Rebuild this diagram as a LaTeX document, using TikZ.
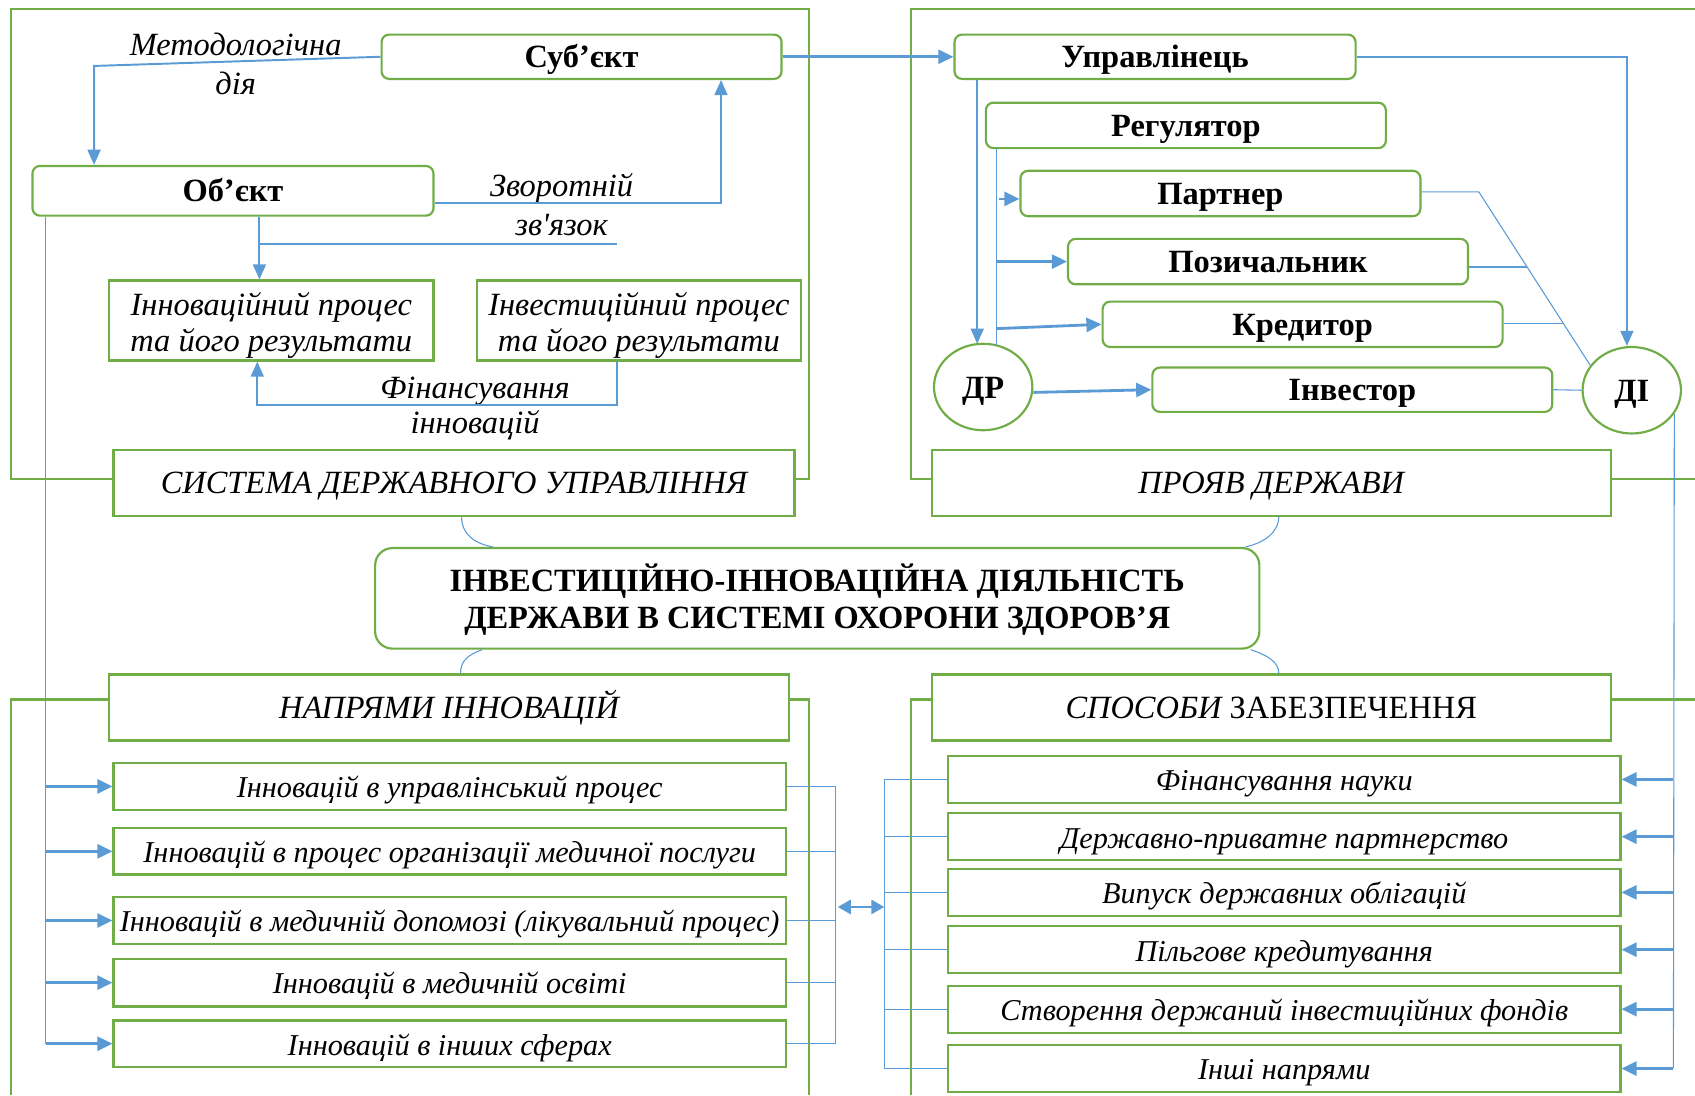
\documentclass[tikz,border=0pt]{standalone}
\usepackage{fontspec}
\setmainfont{Liberation Serif}
\newfontfamily\nolig{Liberation Serif}
\usetikzlibrary{arrows.meta,shapes.geometric,calc}
\definecolor{grn}{HTML}{70AD47}
\definecolor{blu}{HTML}{5B9BD5}
\newcommand{\topst}{\rule{0pt}{32pt}}
\newcommand{\botst}{\rule[-8pt]{0pt}{8pt}}
\newcommand{\mtopst}{\rule{0pt}{28pt}}
\newcommand{\mbotst}{\rule[-6pt]{0pt}{6pt}}
\begin{document}
\begin{tikzpicture}[x=1pt,y=-1pt,
  every node/.style={font=\fontsize{30}{34}\selectfont},
  gbox/.style={draw=grn,line width=2pt,fill=white,inner sep=0pt},
  one/.style={text height=22pt,text depth=1.5pt},
  rbox/.style={gbox,one,rounded corners=7pt,font=\fontsize{30}{34}\selectfont\bfseries},
  ibox/.style={gbox,one,font=\fontsize{30}{34}\selectfont\itshape},
  ubox/.style={gbox,one,font=\fontsize{30}{34}\selectfont},
  ebox/.style={gbox,one,ellipse,font=\fontsize{30}{34}\selectfont\bfseries},
  mbox/.style={gbox,align=center,font=\fontsize{30}{34}\selectfont\itshape},
  item/.style={gbox,text height=22pt,text depth=1pt,minimum width=622,font=\fontsize{28}{32}\selectfont\itshape},
  frame/.style={draw=grn,line width=2pt},
  thinl/.style={draw=blu,line width=1pt},
  medl/.style={draw=blu,line width=1.8pt},
  ar/.style={draw=blu,line width=2.6pt,-{Triangle[length=14pt,width=13pt]}},
  mar/.style={draw=blu,line width=1.8pt,-{Triangle[length=14pt,width=12pt]}},
  dar/.style={draw=blu,line width=2.6pt,{Triangle[length=12pt,width=13pt]}-{Triangle[length=12pt,width=13pt]}},
  lab/.style={font=\fontsize{30}{34}\selectfont\itshape,inner sep=0pt,anchor=base},
]
\useasboundingbox (0,0) rectangle (1568,1013);
% frames
\draw[frame] (10,8) rectangle (748,443);
\draw[frame] (1568,8) -- (843,8) -- (843,443) -- (1568,443);
\draw[frame] (10,1013) -- (10,647) -- (748,647) -- (748,1013);
\draw[frame] (843,1013) -- (843,647) -- (1568,647);
% top-left nodes
\node[rbox,minimum width=370,minimum height=41] (subj) at (538,52.5) {Суб’єкт};
\node[rbox,minimum width=371,minimum height=46] (obj) at (215.5,176.5) {Об’єкт};
\node[mbox,minimum width=300,minimum height=66] (innov) at (251,296.5) {\topst Інноваційний процес\\та його результати\botst};
\node[mbox,minimum width=300,minimum height=66] (invest) at (591,296.5) {\topst Інвестиційний процес\\та його результати\botst};
\node[ibox,minimum width=630,minimum height=61] (sys) at (420,446.5) {СИСТЕМА ДЕРЖАВНОГО УПРАВЛІННЯ};
\node[lab] (l1a) at (218,51) {Методологічна};
\node[lab] (l1b) at (218,87) {дія};
\node[lab] (l2a) at (519.5,182) {Зворотній};
\node[lab] (l2b) at (519.5,217.5) {зв{\nolig '}язок};
\node[lab] (l3a) at (439.5,368.5) {Фінансування};
\node[lab] (l3b) at (439.5,401) {інновацій};
% top-right nodes
\node[rbox,minimum width=371,minimum height=41] (upr) at (1068.5,52.5) {Управлінець};
\node[rbox,minimum width=370,minimum height=42] (reg) at (1097,116) {Регулятор};
\node[rbox,minimum width=370,minimum height=42] (part) at (1129,179) {Партнер};
\node[rbox,minimum width=370,minimum height=42] (poz) at (1173,242) {Позичальник};
\node[rbox,minimum width=370,minimum height=42] (kred) at (1205,300) {Кредитор};
\node[rbox,minimum width=370,minimum height=41] (inv) at (1251,360.5) {Інвестор};
\node[ebox,minimum width=91,minimum height=80] (DR) at (909.5,358) {ДР};
\node[ebox,minimum width=91,minimum height=80] (DI) at (1509.5,361) {ДІ};
\node[ibox,minimum width=628,minimum height=61] (pro) at (1176,446.5) {ПРОЯВ ДЕРЖАВИ};
% centre
\node[gbox,align=center,rounded corners=16pt,minimum width=818,minimum height=93,font=\fontsize{30}{34}\selectfont\bfseries] (main) at (756,553.5) {\mtopst ІНВЕСТИЦІЙНО-ІННОВАЦІЙНА ДІЯЛЬНІСТЬ\\ДЕРЖАВИ В СИСТЕМІ ОХОРОНИ ЗДОРОВ’Я\mbotst};
\node[ibox,minimum width=629,minimum height=61] (napr) at (415.5,654.5) {НАПРЯМИ ІННОВАЦІЙ};
\node[ubox,minimum width=628,minimum height=61] (spos) at (1176,654.5) {{\itshape СПОСОБИ} ЗАБЕЗПЕЧЕННЯ};
% left items
\node[item,minimum height=43] (a1) at (416,727.5) {Інновацій в управлінський процес};
\node[item,minimum height=43] (a2) at (416,787.5) {Інновацій в процес організації медичної послуги};
\node[item,minimum height=43] (a3) at (416,851.5) {Інновацій в медичній допомозі (лікувальний процес)};
\node[item,minimum height=44] (a4) at (416,909) {Інновацій в медичній освіті};
\node[item,minimum height=43] (a5) at (416,965.5) {Інновацій в інших сферах};
% right items
\node[item,minimum height=43.5] (b1) at (1188,721) {Фінансування науки};
\node[item,minimum height=43.5] (b2) at (1188,774) {Державно-приватне партнерство};
\node[item,minimum height=43.5] (b3) at (1188,825.5) {Випуск державних облігацій};
\node[item,minimum height=43.5] (b4) at (1188,878.5) {Пільгове кредитування};
\node[item,minimum height=43.5] (b5) at (1188,933.5) {Створення держаний інвестиційних фондів};
\node[item,minimum height=43.5] (b6) at (1188,988.5) {Інші напрями};
% top-left connectors
\draw[mar] (subj.west) -- (87,61) -- (87,0 |- obj.north);
\draw[mar] (obj.east |- 0,188) -- (667,188) -- (667,0 |- subj.south);
\draw[mar] (obj.south -| 240,0) -- (240,0 |- innov.north);
\draw[medl] (240,226) -- (571,226);
\draw[mar] (invest.south -| 571,0) -- (571,375) -- (238,375) -- (238,0 |- innov.south);
\draw[thinl] (obj.south -| 42,0) -- (a5.west -| 42,0);
\foreach \n in {a1,a2,a3,a4,a5} \draw[ar] (\n.west -| 43,0) -- (\n.west);
% top-right connectors
\draw[ar] (subj.east) -- (upr.west);
\draw[mar] (upr.south -| 904,0) -- (904,318);
\draw[thinl] (reg.south -| 922,0) -- (922,319);
\draw[ar] (924,184) -- (part.west |- 0,184);
\draw[ar] (922,242) -- (poz.west);
\draw[ar] (922,304) -- (kred.west);
\draw[ar] ($(DR.east)+(0,5)$) -- (inv.west);
\draw[mar] (upr.east) -- (1505,52.5) -- (1505,0 |- DI.north);
\draw[thinl] (part.east |- 0,177.5) -- (1368,177.5) -- (DI.149);
\draw[thinl] (poz.east |- 0,247) -- (1413,247);
\draw[thinl] (kred.east |- 0,299) -- (1447,299);
\draw[thinl] (inv.east) -- (DI.west);
\draw[thinl] (DI.-29) -- (1548,988);
\foreach \n in {b1,b2,b3,b4,b5,b6} \draw[ar] (\n.east -| 1548,0) -- (\n.east);
% brackets
\foreach \n in {a1,a2,a3,a4,a5} \draw[thinl] (\n.east) -- (\n.east -| 773,0);
\draw[thinl] (a1.east -| 773,0) -- (a5.east -| 773,0);
\foreach \n in {b1,b2,b3,b4,b5,b6} \draw[thinl] (\n.west -| 818,0) -- (\n.west);
\draw[thinl] (b1.west -| 818,0) -- (b6.west -| 818,0);
\coordinate (bl) at (775,839);
\coordinate (br) at (818,839);
\draw[dar] (bl) -- (br);
% curved connectors
\draw[thinl] (sys.south -| 427,0) .. controls (427,495) and (440,503) .. (main.north -| 456,0);
\draw[thinl] (main.south -| 446,0) .. controls (432,606) and (426,612) .. (napr.north -| 426,0);
\draw[thinl] (pro.south -| 1183,0) .. controls (1183,492) and (1170,502) .. (main.north -| 1152,0);
\draw[thinl] (main.south -| 1157,0) .. controls (1172,606) and (1183,612) .. (spos.north -| 1183,0);
\end{tikzpicture}
\end{document}
